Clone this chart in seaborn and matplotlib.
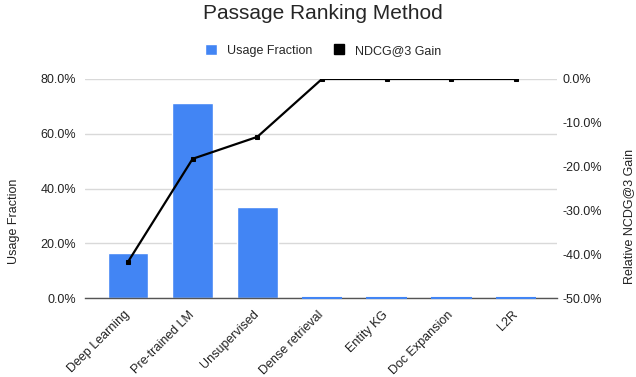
import numpy as np
import matplotlib.pyplot as plt
import seaborn as sns
from matplotlib.patches import Patch
from matplotlib.lines import Line2D

# chart data
methods = ['Deep Learning', 'Pre-trained LM', 'Unsupervised', 'Dense retrieval',
           'Entity KG', 'Doc Expansion', 'L2R']
usage = [16.7, 71.4, 33.3, 0, 0, 0, 0]          # usage fraction (%)
gain = [-41.7, -18.2, -13.2, 0, 0, 0, 0]        # relative NDCG@3 gain (%)

left_ticks = [0, 20, 40, 60, 80]
right_ticks = [-50, -40, -30, -20, -10, 0]

sns.set_style("white")
plt.rcParams['font.family'] = ['Liberation Sans', 'DejaVu Sans']
fs = 9
txt = '#222222'

fig = plt.figure(figsize=(6.36, 3.77), dpi=100)
ax = fig.add_axes([0.1329, 0.2088, 0.7424, 0.5817])

blue = '#4285F4'
sns.barplot(x=methods, y=usage, color=blue, width=0.63, saturation=1, ax=ax, zorder=2)

ax.set_ylim(left_ticks[0], left_ticks[-1])
ax.set_xlim(-0.672, 6.63)
ax.set_yticks(left_ticks)
ax.set_yticklabels([f'{t:.1f}%' for t in left_ticks])
ax.yaxis.grid(True, color='#d9d9d9', lw=1, zorder=0)
ax.set_axisbelow(True)

for s in ['top', 'right', 'left']:
    ax.spines[s].set_visible(False)
ax.spines['bottom'].set_color('#555555')
ax.spines['bottom'].set_linewidth(1.0)

# zero-valued bars show as a thin blue strip on the baseline
for p in ax.patches:
    if p.get_height() == 0:
        p.set_edgecolor(blue)
        p.set_linewidth(1.5)
        p.set_zorder(4)
        p.set_clip_on(False)

ax.tick_params(axis='y', length=0, labelsize=fs, colors=txt, pad=6)
ax.tick_params(axis='x', length=0, labelsize=fs, colors=txt, pad=10.5)
plt.setp(ax.get_xticklabels(), rotation=45, ha='right', va='center',
         rotation_mode='anchor')
ax.set_ylabel('Usage Fraction', fontsize=fs, color=txt)
ax.yaxis.set_label_coords(-0.137, 0.352)
ax.set_xlabel('')

ax2 = ax.twinx()
sns.lineplot(x=np.arange(len(methods)), y=gain, ax=ax2, color='black', lw=1.6,
             marker='s', markersize=3, markeredgecolor='black', zorder=5)
ax2.set_ylim(right_ticks[0], right_ticks[-1])
ax2.set_yticks(right_ticks)
ax2.set_yticklabels([f'{t:.1f}%' for t in right_ticks])
ax2.tick_params(axis='y', length=0, labelsize=fs, colors=txt, pad=4.5)
for s in ['top', 'right', 'left', 'bottom']:
    ax2.spines[s].set_visible(False)
ax2.set_ylabel('Relative NCDG@3 Gain', fontsize=fs, color=txt)
ax2.yaxis.set_label_coords(1.141, 0.375)
ax2.set_xlim(ax.get_xlim())

fig.suptitle('Passage Ranking Method', fontsize=15, x=0.508, y=0.99, va='top')
handles = [Patch(facecolor=blue, label='Usage Fraction'),
           Line2D([], [], color='black', marker='s', ls='', markersize=7, label='NDCG@3 Gain')]
fig.legend(handles=handles, loc='center', bbox_to_anchor=(0.508, 0.867), ncol=2,
           frameon=False, fontsize=fs, handlelength=1.0, handleheight=1.0,
           columnspacing=1.6, handletextpad=0.8)

plt.savefig('out.png', dpi=100)
